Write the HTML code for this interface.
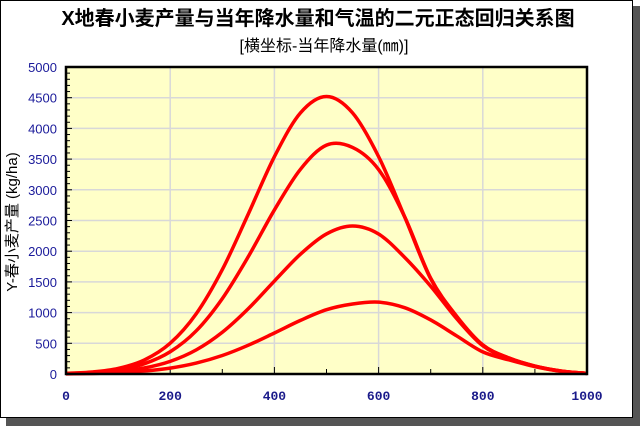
<!DOCTYPE html>
<html><head><meta charset="utf-8"><style>
html,body{margin:0;padding:0;background:#fff;}
body{width:640px;height:426px;overflow:hidden;position:relative;font-family:"Liberation Sans","Noto Sans CJK SC",sans-serif;}
</style></head><body>
<svg id="chart" width="640" height="426" xmlns="http://www.w3.org/2000/svg" style="position:absolute;left:0;top:0">
<rect x="6" y="6" width="634" height="420" fill="#555"/>
<rect x="0.5" y="0.5" width="632" height="417" fill="#fff" stroke="#000" stroke-width="1"/>
<text x="318" y="25" text-anchor="middle" font-size="20" font-weight="bold" font-family="Liberation Sans, Noto Sans CJK SC, sans-serif" fill="#000">X地春小麦产量与当年降水量和气温的二元正态回归关系图</text>
<text x="324" y="51" text-anchor="middle" font-size="16" font-family="Liberation Sans, Noto Sans CJK SC, sans-serif" fill="#000">[横坐标-当年降水量(㎜)]</text>
<text transform="translate(17,222) rotate(-90)" text-anchor="middle" font-size="15" font-family="Liberation Sans, Noto Sans CJK SC, sans-serif" fill="#000">Y-春小麦产量 (kg/ha)</text>
<g id="plot"></g>
</svg>
<script>
const xVals=[0,50,100,150,200,250,300,350,400,450,500,550,600,650,700,750,800,850,900,950,1000];
const seriesA=[10,32,90,226,501,981,1700,2608,3540,4253,4520,4253,3540,2560,1550,930,470,260,130,50,10];
const seriesB=[8,25,68,166,362,703,1228,1913,2672,3334,3727,3690,3330,2560,1560,940,475,262,130,50,10];
const seriesC=[6,17,42,98,206,393,680,1065,1514,1951,2281,2410,2280,1900,1430,900,460,250,125,45,10];
const seriesD=[3,9,22,48,96,178,301,469,668,873,1047,1140,1170,1080,880,620,360,230,120,45,10];
const xTicks=[0,200,400,600,800,1000];
const yTicks=[0,500,1000,1500,2000,2500,3000,3500,4000,4500,5000];
const L=66,R=587,T=67,B=374;
const sx=v=>L+(v/1000)*(R-L);
const sy=v=>B-(v/5000)*(B-T);
const NS="http://www.w3.org/2000/svg";
const g=document.getElementById('plot');
function mk(tag,attrs){const e=document.createElementNS(NS,tag);for(const k in attrs)e.setAttribute(k,attrs[k]);g.appendChild(e);return e;}
const bg=mk('rect',{x:L,y:T,width:R-L,height:B-T,fill:'#ffffc8'});


yTicks.forEach(t=>{if(t>0&&t<5000){const l=mk('line',{x1:L,x2:R,y1:sy(t),y2:sy(t),stroke:'#d8d8d8','stroke-width':1.5});

}
const tx=mk('text',{x:57,y:sy(t)+5,'text-anchor':'end','font-size':13,fill:'#1a1a9a','font-family':'Liberation Sans, sans-serif'});tx.textContent=t;

});
xTicks.forEach(t=>{if(t>0&&t<1000){const l=mk('line',{y1:T,y2:B,x1:sx(t),x2:sx(t),stroke:'#d8d8d8','stroke-width':1.5});

}
const tx=mk('text',{x:sx(t),y:400,'text-anchor':'middle','font-size':13,'font-weight':'bold',fill:'#1a1a8a','font-family':'Liberation Mono, monospace'});tx.textContent=t;

});
for(let v=100;v<5000;v+=100){const l=mk('line',{x1:L,x2:L+(v%500===0?6:4),y1:sy(v),y2:sy(v),stroke:'#000','stroke-width':1});

}
for(let v=100;v<1000;v+=100){const l=mk('line',{x1:sx(v),x2:sx(v),y1:B,y2:B-(v%200===0?7:5),stroke:'#000','stroke-width':1});

}
function pathFor(ys){const p=xVals.map((x,i)=>[sx(x),sy(ys[i])]);let d='M'+p[0][0]+','+p[0][1];
for(let i=0;i<p.length-1;i++){const p0=p[i-1]||p[i],p1=p[i],p2=p[i+1],p3=p[i+2]||p[i+1];
const c1=[p1[0]+(p2[0]-p0[0])/6,p1[1]+(p2[1]-p0[1])/6],c2=[p2[0]-(p3[0]-p1[0])/6,p2[1]-(p3[1]-p1[1])/6];
d+=' C'+c1[0]+','+c1[1]+' '+c2[0]+','+c2[1]+' '+p2[0]+','+p2[1];}return d;}
[['curve-a',seriesA],['curve-b',seriesB],['curve-c',seriesC],['curve-d',seriesD]].forEach(([n,s])=>{
const e=mk('path',{d:pathFor(s),fill:'none',stroke:'#ff0000','stroke-width':3.5,'stroke-linejoin':'round'});

});
const border=mk('rect',{x:L,y:T,width:R-L,height:B-T,fill:'none',stroke:'#000','stroke-width':2.5});


</script>
</body></html>
